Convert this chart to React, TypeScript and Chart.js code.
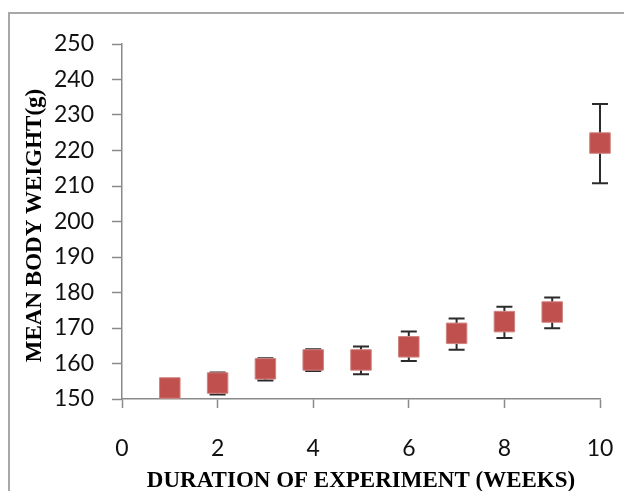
import React, { useEffect, useRef } from "react";
import { Chart, registerables } from "chart.js";

Chart.register(...registerables);

const weeks = [1, 2, 3, 4, 5, 6, 7, 8, 9, 10];
const meanWeight = [153.1, 154.5, 158.5, 161, 161, 164.7, 168.5, 171.8, 174.5, 222.1];
const errPlus = [2.5, 3, 3, 3, 3.8, 4.3, 4.2, 4.2, 4.1, 11];
const errMinus = [2.5, 3.2, 3.3, 3.1, 4, 4, 4.6, 4.6, 4.6, 11.3];

const xTitle = "DURATION OF EXPERIMENT (WEEKS)";
const yTitle = "MEAN BODY WEIGHT(g)";

const AXIS_GRAY = "#8a8a8a";

const framePlugin = {
  id: "frame",
  beforeDraw(chart: any) {
    const ctx = chart.ctx;
    ctx.save();
    ctx.strokeStyle = "#a8a8a8";
    ctx.lineWidth = 2;
    ctx.beginPath();
    ctx.moveTo(9, chart.height + 5);
    ctx.lineTo(9, 13);
    ctx.lineTo(chart.width + 5, 13);
    ctx.stroke();
    ctx.restore();
  },
};

const yTitlePlugin = {
  id: "yTitle",
  afterDraw(chart: any) {
    const ctx = chart.ctx;
    const ys = chart.scales.y;
    ctx.save();
    ctx.translate(35, (ys.top + ys.bottom) / 2 + 4);
    ctx.rotate(-Math.PI / 2);
    ctx.font = "bold 23px 'Liberation Serif'";
    ctx.fillStyle = "#000";
    ctx.textAlign = "center";
    ctx.textBaseline = "middle";
    ctx.fillText(yTitle, 0, 0);
    ctx.restore();
  },
};

const errorBarPlugin = {
  id: "errorBars",
  beforeDatasetsDraw(chart: any) {
    const ctx = chart.ctx;
    const xs = chart.scales.x;
    const ys = chart.scales.y;
    ctx.save();
    ctx.strokeStyle = "#2b2b2b";
    ctx.lineWidth = 2;
    weeks.forEach((w, i) => {
      const x = xs.getPixelForValue(w);
      const yTop = ys.getPixelForValue(meanWeight[i] + errPlus[i]);
      const yBot = ys.getPixelForValue(meanWeight[i] - errMinus[i]);
      ctx.beginPath();
      ctx.moveTo(x, yTop);
      ctx.lineTo(x, yBot);
      ctx.moveTo(x - 8, yTop);
      ctx.lineTo(x + 8, yTop);
      ctx.moveTo(x - 8, yBot);
      ctx.lineTo(x + 8, yBot);
      ctx.stroke();
    });
    ctx.restore();
  },
};

export default function App() {
  const ref = useRef<HTMLCanvasElement | null>(null);
  useEffect(() => {
    if (!ref.current) return;
    const chart = new Chart(ref.current, {
      type: "scatter",
      data: {
        datasets: [
          {
            data: weeks.map((w, i) => ({ x: w, y: meanWeight[i] })),
            pointStyle: "rect",
            pointRadius: 14.5,
            pointHoverRadius: 14.5,
            backgroundColor: "#c0504d",
            borderColor: "#d08482",
            borderWidth: 1,
            clip: false,
          },
        ],
      },
      options: {
        animation: false,
        responsive: false,
        events: [],
        layout: { autoPadding: false, padding: { top: 44, right: 24, left: 0, bottom: 0 } },
        plugins: {
          legend: { display: false },
          tooltip: { enabled: false },
        },
        scales: {
          x: {
            type: "linear",
            min: 0,
            max: 10,
            afterFit: (s: any) => {
              s.height = 92;
              s.paddingLeft = 0;
              s.paddingRight = 0;
            },
            ticks: {
              stepSize: 2,
              padding: 27,
              color: "#111",
              font: { family: "Lato", size: 23 },
            },
            grid: {
              drawOnChartArea: false,
              drawTicks: true,
              tickLength: 9,
              tickColor: AXIS_GRAY,
              tickWidth: 1.5,
            },
            border: { display: true, color: AXIS_GRAY, width: 1.5 },
            title: {
              display: true,
              text: xTitle,
              color: "#000",
              font: { family: "Liberation Serif", size: 23, weight: "bold", lineHeight: 0.9 },
              padding: { top: 0, bottom: 0 },
            },
          },
          y: {
            type: "linear",
            min: 150,
            max: 250,
            afterFit: (s: any) => {
              s.width = 122;
              s.paddingTop = 0;
              s.paddingBottom = 0;
            },
            ticks: {
              stepSize: 10,
              padding: 18,
              color: "#111",
              font: { family: "Lato", size: 23 },
            },
            grid: {
              drawOnChartArea: false,
              drawTicks: true,
              tickLength: 10,
              tickColor: AXIS_GRAY,
              tickWidth: 1.5,
            },
            border: { display: true, color: AXIS_GRAY, width: 1.5 },
          },
        },
      },
      plugins: [framePlugin, errorBarPlugin, yTitlePlugin],
    });
    return () => chart.destroy();
  }, []);
  return (
    <div style={{ position: "fixed", left: 0, top: 0, width: 624, height: 491, background: "#fff" }}>
      <canvas ref={ref} width={624} height={491} style={{ display: "block" }} />
    </div>
  );
}
